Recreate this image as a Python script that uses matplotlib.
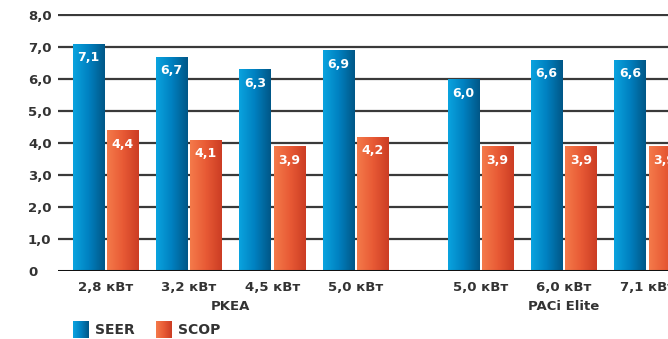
import matplotlib.pyplot as plt
import numpy as np
from matplotlib.colors import LinearSegmentedColormap
from matplotlib.patches import Rectangle

# data
categories = ['2,8 кВт', '3,2 кВт', '4,5 кВт', '5,0 кВт', '5,0 кВт', '6,0 кВт', '7,1 кВт']
positions = [0, 1, 2, 3, 4.5, 5.5, 6.5]
seer = [7.1, 6.7, 6.3, 6.9, 6.0, 6.6, 6.6]
scop = [4.4, 4.1, 3.9, 4.2, 3.9, 3.9, 3.9]
groups = ['PKEA', 'PACi Elite']
group_pos = [1.5, 5.5]
yticks = [0, 1, 2, 3, 4, 5, 6, 7, 8]
ytick_labels = ['0', '1,0', '2,0', '3,0', '4,0', '5,0', '6,0', '7,0', '8,0']

plt.rcParams['font.family'] = ['DejaVu Sans']

blue_cmap = LinearSegmentedColormap.from_list('b', ['#0aa3df', '#0080c0', '#005787'])
red_cmap = LinearSegmentedColormap.from_list('r', ['#f47a4a', '#e85a35', '#cc3d24'])
grad = np.linspace(0, 1, 64).reshape(1, -1)

fig = plt.figure(figsize=(6.68, 3.39), dpi=100)
ax = fig.add_axes([58 / 668, 68 / 339, 1 - 58 / 668, 257 / 339])

w = 0.375
off = 0.205
x = np.array(positions)

def grad_bars(xs, vals, cmap):
    bars = ax.bar(xs, vals, w, color='none', zorder=3)
    for b in bars:
        x0, wd, h = b.get_x(), b.get_width(), b.get_height()
        im = ax.imshow(grad, cmap=cmap, aspect='auto', extent=(x0, x0 + wd, 0, h), zorder=3)
        im.set_clip_path(Rectangle((x0, 0), wd, h, transform=ax.transData))
    return bars

grad_bars(x - off, seer, blue_cmap)
grad_bars(x + off, scop, red_cmap)

for xi, v in zip(x - off, seer):
    ax.text(xi, v - 0.44, f'{v:.1f}'.replace('.', ','), ha='center', va='center',
            color='white', fontsize=9, fontweight='bold', zorder=4)
for xi, v in zip(x + off, scop):
    ax.text(xi, v - 0.44, f'{v:.1f}'.replace('.', ','), ha='center', va='center',
            color='white', fontsize=9, fontweight='bold', zorder=4)

for t in yticks[1:]:
    ax.axhline(t, color='#3a3a3a', lw=1.6, zorder=1)
ax.axhline(0, color='#111111', lw=2.2, zorder=5)

ax.set_xlim(-0.57, 6.75)
ax.set_ylim(0, 8.03)
ax.set_yticks(yticks)
ax.set_yticklabels(ytick_labels, fontsize=9.5, fontweight='bold', color='#333333')
ax.tick_params(axis='y', length=0, pad=21.6)
for lab in ax.get_yticklabels():
    lab.set_horizontalalignment('left')
ax.set_xticks(positions)
ax.set_xticklabels(categories, fontsize=9.5, fontweight='bold', color='#333333')
ax.tick_params(axis='x', length=0, pad=7)
for s in ax.spines.values():
    s.set_visible(False)

for g, gp in zip(groups, group_pos):
    ax.text(gp, -1.12, g, ha='center', va='center', fontsize=9.5, fontweight='bold',
            color='#333333', transform=ax.transData)

# legend
lax = fig.add_axes([0, 0, 1, 1], facecolor='none')
lax.set_xlim(0, 668)
lax.set_ylim(339, 0)
lax.axis('off')
sq = np.linspace(0, 1, 32).reshape(1, -1)
lax.imshow(sq, cmap=blue_cmap, aspect='auto', extent=(73, 89, 338, 321))
lax.imshow(sq, cmap=red_cmap, aspect='auto', extent=(156, 172, 338, 321))
lax.text(95, 330, 'SEER', va='center', fontsize=10, fontweight='bold', color='#333333')
lax.text(178, 330, 'SCOP', va='center', fontsize=10, fontweight='bold', color='#333333')
lax.set_xlim(0, 668)
lax.set_ylim(339, 0)

fig.savefig('out.png', dpi=100)
